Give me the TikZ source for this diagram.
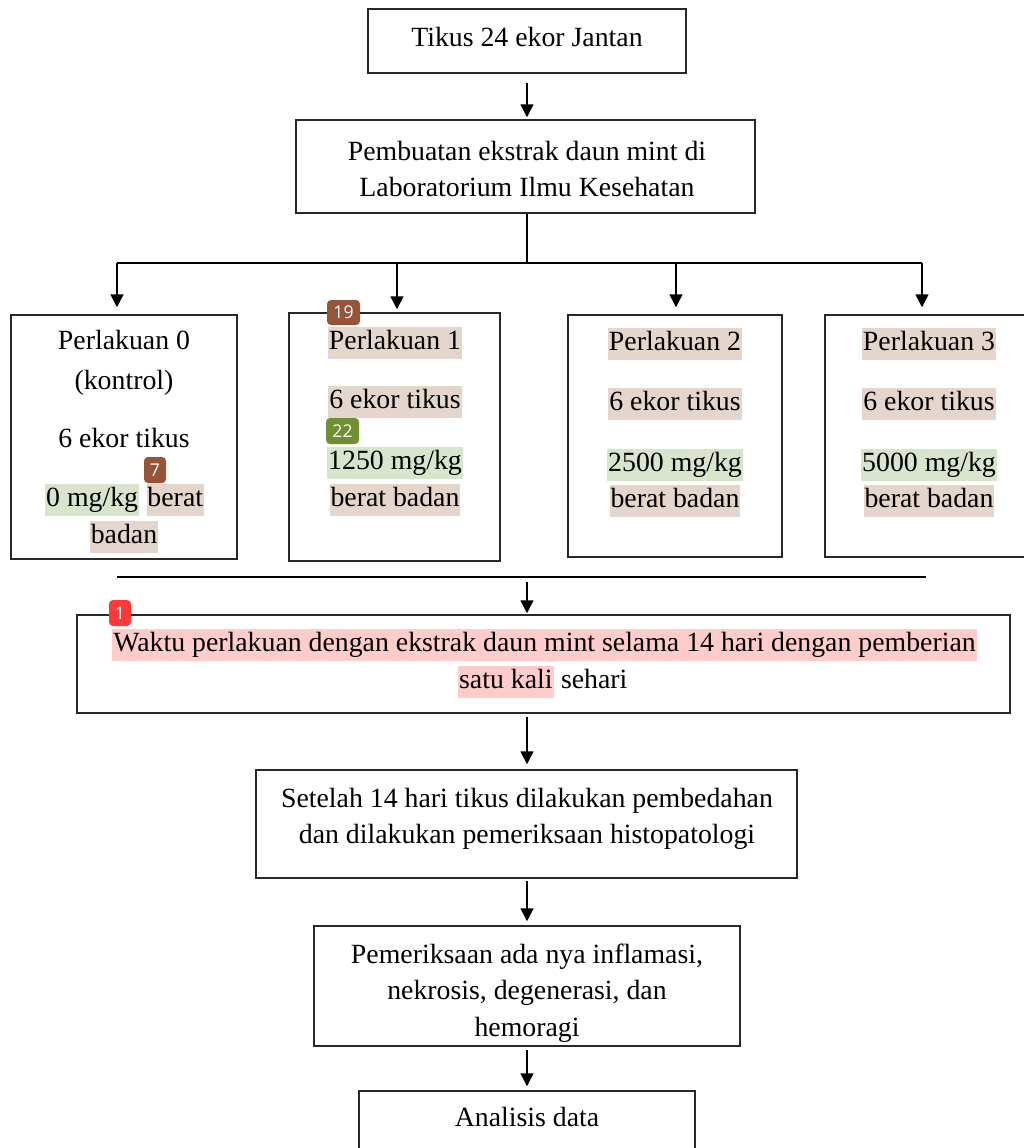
\documentclass[tikz,border=0pt]{standalone}
\usepackage{fontspec}
\setmainfont{Liberation Serif}
\newfontfamily\badgefont{Open Sans}
\usetikzlibrary{arrows.meta,fit}
\definecolor{hlbrown}{RGB}{228,214,204}
\definecolor{hlgreen}{RGB}{217,228,204}
\definecolor{hlpink}{RGB}{255,204,204}
\definecolor{bdbrown}{RGB}{150,84,56}
\definecolor{bdgreen}{RGB}{112,142,50}
\definecolor{bdred}{RGB}{255,56,56}
\definecolor{edge}{RGB}{40,40,40}
\begin{document}
\begin{tikzpicture}[x=0.5pt,y=-0.5pt,
  box/.style={draw=edge,line width=0.75pt,inner sep=0pt},
  ln/.style={yshift=-1.5pt,inner xsep=0.5pt,inner ysep=1.5pt,text height=9.5pt,text depth=3.2pt,font=\fontsize{13.9}{17}\selectfont},
  hb/.style={ln,fill=hlbrown},
  hg/.style={ln,fill=hlgreen},
  hp/.style={ln,fill=hlpink},
  ml/.style={yshift=-1.5pt,align=center,inner sep=0pt,font=\fontsize{13.9}{18.2}\selectfont},
  arr/.style={-{Triangle[length=6.5pt,width=6.5pt]},line width=0.75pt},
  link/.style={line width=0.75pt},
  badge/.style={rounded corners=2pt,text=white,font=\badgefont\fontsize{8.8}{8.8}\selectfont,inner sep=0pt}
]
\clip (0,0) rectangle (1024,1148);
\fill[white] (0,0) rectangle (1024,1148);

% boxes
\node[box,fit={(368,9) (686,73)}] (top) {};
\node[box,fit={(296,120) (755,213)}] (pemb) {};
\node[box,fit={(11,315) (237,559)}] (p0) {};
\node[box,fit={(289,313) (500,561)}] (p1) {};
\node[box,fit={(568,315) (782,557)}] (p2) {};
\node[box,fit={(825,315) (1040,557)}] (p3) {};
\node[box,fit={(77,615) (1010,713)}] (waktu) {};
\node[box,fit={(256,770) (797,878)}] (setelah) {};
\node[box,fit={(314,926) (740,1046)}] (periksa) {};
\node[box,fit={(359,1091) (695,1170)}] (analisis) {};

% texts
\node[ln] (ttop) at (527,37) {Tikus 24 ekor Jantan};
\node[ml] (tpemb) at (527,166) {Pembuatan ekstrak daun mint di\\Laboratorium Ilmu Kesehatan};

\node[ln] (a0) at (124,340) {Perlakuan 0};
\node[ln] (b0t) at (124,380) {(kontrol)};
\node[ln] (c0) at (124,438) {6 ekor tikus};
\node[hg,anchor=east] (d0) at (139.5,497) {0 mg/kg};
\node[hb,anchor=west] (e0) at ([xshift=3.3pt,yshift=1.5pt]d0.east) {berat};
\node[hb] (f0) at (124,534) {badan};

\node[hb] (a1) at (395,340) {Perlakuan 1};
\node[hb] (c1) at (395,399) {6 ekor tikus};
\node[hg] (d1) at (395,460) {1250 mg/kg};
\node[hb] (e1) at (395,497) {berat badan};

\node[hb] (a2) at (675,341) {Perlakuan 2};
\node[hb] (c2) at (675,401) {6 ekor tikus};
\node[hg] (d2) at (675,462) {2500 mg/kg};
\node[hb] (e2) at (675,498) {berat badan};

\node[hb] (a3) at (929,341) {Perlakuan 3};
\node[hb] (c3) at (929,401) {6 ekor tikus};
\node[hg] (d3) at (929,462) {5000 mg/kg};
\node[hb] (e3) at (929,498) {berat badan};

\node[hp] (w1) at (544.5,642) {Waktu perlakuan dengan ekstrak daun mint selama 14 hari dengan pemberian};
\node[hp,anchor=east] (w2) at (554,679) {satu kali};
\node[ln,anchor=west] (w3) at ([xshift=2.8pt,yshift=1.5pt]w2.east) {sehari};

\node[ml] (tset) at (527,816) {Setelah 14 hari tikus dilakukan pembedahan\\dan dilakukan pemeriksaan histopatologi};
\node[ml] (tper) at (527,990) {Pemeriksaan ada nya inflamasi,\\nekrosis, degenerasi, dan\\hemoragi};
\node[ln] (tana) at (527,1117) {Analisis data};

% connectors
\draw[arr,shorten <=4.5pt,shorten >=1pt] (top.south -| ttop) -- (ttop |- pemb.north);
\coordinate (bus) at (527,263);
\coordinate (br0) at (117,263);
\coordinate (br1) at (397,263);
\coordinate (br2) at (676,263);
\coordinate (br3) at (922,263);
\draw[link] (bus |- pemb.south) -- (bus);
\draw[link] (br0) -- (br3);
\draw[arr,shorten >=3.5pt] (br0) -- (br0 |- p0.north);
\draw[arr,shorten >=1.5pt] (br1) -- (br1 |- p1.north);
\draw[arr,shorten >=3.5pt] (br2) -- (br2 |- p2.north);
\draw[arr,shorten >=3.5pt] (br3) -- (br3 |- p3.north);

\coordinate (j0) at (117,577);
\coordinate (j1) at (926,577);
\coordinate (jm) at (527,577);
\draw[link] (j0) -- (j1);
\draw[arr,shorten <=2.5pt,shorten >=0.5pt] (jm) -- (jm |- waktu.north);
\draw[arr,shorten <=1.5pt,shorten >=2.5pt] (jm |- waktu.south) -- (jm |- setelah.north);
\draw[arr,shorten <=1pt,shorten >=2pt] (jm |- setelah.south) -- (jm |- periksa.north);
\draw[arr,shorten <=1.5pt,shorten >=2pt] (jm |- periksa.south) -- (jm |- analisis.north);

% badges
\node[badge,fill=bdbrown,minimum width=16.5pt,minimum height=12.5pt] (g19) at (343.5,312.5) {19};
\node[badge,fill=bdgreen,minimum width=16.5pt,minimum height=13pt] (g22) at (342.5,431) {22};
\node[badge,fill=bdbrown,minimum width=11pt,minimum height=13pt] (g7) at (155,470) {7};
\node[badge,fill=bdred,minimum width=11pt,minimum height=13pt] (g1) at (120,613) {1};
\end{tikzpicture}
\end{document}
